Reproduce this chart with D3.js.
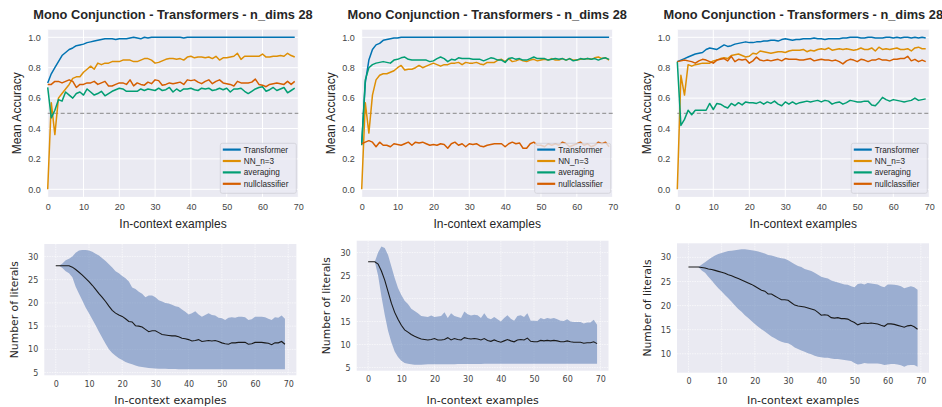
<!DOCTYPE html>
<html>
<head>
<meta charset="utf-8">
<script src="https://cdn.jsdelivr.net/npm/d3@7"></script>
<style>
  body { margin: 0; background: #fff; }
  svg { display: block; }
</style>
</head>
<body>
<svg id="chart" width="942" height="407"></svg>
<script>
// ---- data ----
const steps = d3.range(0, 70);
const seriesNames = ["Transformer", "NN_n=3", "averaging", "nullclassifier"];
const seriesColors = ["#0173B2", "#DE8F05", "#029E73", "#D55E00"];
const chartTitle = "Mono Conjunction - Transformers - n_dims 28";
const accTicks = [0, 0.2, 0.4, 0.6, 0.8, 1.0];
const stepTicks = [0, 10, 20, 30, 40, 50, 60, 70];

// top-left panel
const tlTransformer = [0.70,0.76,0.80,0.84,0.88,0.90,0.92,0.93,0.945,0.95,0.955,0.965,0.97,0.975,0.98,0.985,0.99,0.99,0.99,0.985,0.99,0.99,0.99,0.995,1.0,0.995,0.99,1.0,0.995,1.0,1.0,1.0,1.0,1.0,1.0,1.0,1.0,1.0,0.995,1.0,1.0,1.0,1.0,1.0,1.0,1.0,1.0,1.0,1.0,1.0,1.0,1.0,1.0,1.0,1.0,1.0,1.0,1.0,1.0,1.0,1.0,1.0,1.0,1.0,1.0,1.0,1.0,1.0,1.0,1.0];
const tlNN = [0.0,0.57,0.36,0.60,0.63,0.66,0.69,0.73,0.74,0.74,0.77,0.79,0.81,0.79,0.83,0.82,0.83,0.83,0.84,0.84,0.84,0.85,0.85,0.85,0.84,0.84,0.85,0.86,0.86,0.85,0.83,0.835,0.845,0.855,0.86,0.86,0.855,0.86,0.85,0.87,0.875,0.865,0.87,0.87,0.865,0.87,0.86,0.875,0.85,0.865,0.865,0.87,0.875,0.895,0.855,0.875,0.875,0.875,0.875,0.875,0.89,0.87,0.87,0.875,0.875,0.88,0.875,0.895,0.88,0.87];
const tlAvg = [0.67,0.47,0.52,0.59,0.58,0.64,0.62,0.60,0.63,0.64,0.62,0.66,0.64,0.62,0.63,0.645,0.615,0.63,0.645,0.655,0.665,0.66,0.645,0.645,0.645,0.645,0.66,0.65,0.66,0.655,0.65,0.665,0.65,0.655,0.67,0.64,0.66,0.645,0.66,0.66,0.665,0.655,0.65,0.665,0.66,0.665,0.65,0.655,0.665,0.655,0.665,0.64,0.66,0.66,0.665,0.645,0.63,0.645,0.66,0.67,0.675,0.645,0.655,0.67,0.65,0.66,0.67,0.635,0.65,0.665];
const tlNull = [0.69,0.69,0.71,0.71,0.70,0.71,0.72,0.71,0.67,0.69,0.69,0.70,0.70,0.71,0.69,0.70,0.71,0.68,0.68,0.69,0.70,0.70,0.69,0.72,0.68,0.70,0.69,0.685,0.705,0.695,0.72,0.715,0.685,0.69,0.70,0.695,0.70,0.705,0.69,0.72,0.715,0.72,0.705,0.695,0.71,0.72,0.695,0.71,0.72,0.70,0.695,0.69,0.68,0.71,0.70,0.70,0.70,0.705,0.725,0.69,0.685,0.675,0.69,0.695,0.70,0.695,0.69,0.71,0.69,0.71];

// top-middle panel
const tmTransformer = [0.30,0.70,0.85,0.92,0.95,0.96,0.98,0.985,0.99,0.995,0.995,1.0,1.0,1.0,1.0,1.0,1.0,1.0,1.0,1.0,1.0,1.0,1.0,1.0,1.0,1.0,1.0,1.0,1.0,1.0,1.0,1.0,1.0,1.0,1.0,1.0,1.0,1.0,1.0,1.0,1.0,1.0,1.0,1.0,1.0,1.0,1.0,1.0,1.0,1.0,1.0,1.0,1.0,1.0,1.0,1.0,1.0,1.0,1.0,1.0,1.0,1.0,1.0,1.0,1.0,1.0,1.0,1.0,1.0,1.0];
const tmNN = [0.0,0.57,0.37,0.62,0.72,0.75,0.76,0.76,0.77,0.78,0.80,0.815,0.785,0.79,0.79,0.80,0.815,0.80,0.81,0.82,0.83,0.82,0.81,0.82,0.82,0.83,0.83,0.835,0.82,0.835,0.83,0.83,0.835,0.825,0.82,0.835,0.835,0.835,0.85,0.855,0.84,0.86,0.84,0.845,0.855,0.845,0.84,0.85,0.855,0.845,0.85,0.855,0.85,0.86,0.85,0.85,0.86,0.85,0.86,0.85,0.85,0.855,0.855,0.86,0.855,0.865,0.87,0.86,0.865,0.85];
const tmAvg = [0.29,0.72,0.80,0.82,0.83,0.835,0.84,0.835,0.83,0.85,0.855,0.865,0.87,0.855,0.85,0.85,0.85,0.85,0.85,0.84,0.845,0.86,0.87,0.86,0.84,0.855,0.85,0.865,0.86,0.86,0.86,0.855,0.855,0.855,0.845,0.855,0.865,0.86,0.85,0.85,0.835,0.86,0.865,0.855,0.86,0.85,0.85,0.86,0.87,0.86,0.86,0.86,0.85,0.855,0.86,0.855,0.86,0.85,0.86,0.845,0.85,0.86,0.855,0.86,0.855,0.86,0.85,0.86,0.865,0.855];
const tmNull = [0.30,0.31,0.32,0.31,0.28,0.31,0.29,0.29,0.28,0.30,0.295,0.29,0.30,0.31,0.29,0.31,0.305,0.31,0.30,0.29,0.295,0.29,0.30,0.295,0.27,0.30,0.31,0.29,0.30,0.28,0.30,0.295,0.30,0.285,0.28,0.29,0.295,0.30,0.30,0.30,0.28,0.30,0.31,0.30,0.305,0.27,0.27,0.30,0.31,0.29,0.29,0.28,0.30,0.29,0.30,0.29,0.31,0.30,0.28,0.29,0.30,0.31,0.29,0.30,0.28,0.29,0.31,0.30,0.31,0.28];

// top-right panel
const trTransformer = [0.84,0.85,0.86,0.87,0.88,0.89,0.895,0.90,0.92,0.93,0.925,0.92,0.935,0.95,0.94,0.945,0.955,0.96,0.965,0.97,0.965,0.965,0.97,0.97,0.975,0.975,0.98,0.98,0.975,0.985,0.99,0.985,0.98,0.985,0.985,0.99,0.99,0.99,0.995,0.99,0.99,0.985,0.99,0.99,0.99,0.99,0.995,0.995,1.0,1.0,1.0,0.995,0.995,1.0,1.0,0.995,0.995,0.995,1.0,1.0,0.995,1.0,0.995,1.0,1.0,0.995,1.0,0.995,1.0,0.995];
const trNN = [0.0,0.75,0.62,0.82,0.81,0.82,0.825,0.83,0.83,0.83,0.845,0.85,0.86,0.865,0.86,0.88,0.885,0.89,0.88,0.87,0.875,0.895,0.89,0.91,0.905,0.90,0.895,0.90,0.905,0.905,0.90,0.91,0.915,0.915,0.915,0.92,0.905,0.915,0.91,0.92,0.925,0.92,0.93,0.915,0.92,0.925,0.92,0.925,0.92,0.915,0.92,0.93,0.92,0.92,0.93,0.91,0.935,0.92,0.925,0.92,0.925,0.93,0.92,0.92,0.925,0.91,0.93,0.935,0.925,0.925];
const trAvg = [0.84,0.42,0.46,0.52,0.49,0.52,0.52,0.52,0.52,0.565,0.525,0.565,0.56,0.545,0.535,0.565,0.55,0.57,0.555,0.575,0.57,0.57,0.565,0.575,0.56,0.575,0.565,0.58,0.56,0.55,0.575,0.56,0.575,0.56,0.57,0.575,0.58,0.575,0.58,0.585,0.575,0.585,0.58,0.56,0.57,0.575,0.56,0.57,0.585,0.58,0.575,0.575,0.58,0.58,0.555,0.55,0.575,0.605,0.59,0.58,0.59,0.585,0.58,0.575,0.58,0.585,0.60,0.585,0.59,0.595];
const trNull = [0.84,0.845,0.85,0.845,0.84,0.83,0.845,0.855,0.85,0.84,0.83,0.85,0.855,0.86,0.845,0.875,0.84,0.855,0.85,0.855,0.83,0.845,0.87,0.85,0.845,0.85,0.845,0.85,0.855,0.845,0.86,0.855,0.855,0.855,0.85,0.85,0.855,0.86,0.845,0.85,0.855,0.85,0.85,0.845,0.85,0.84,0.825,0.845,0.855,0.85,0.84,0.855,0.85,0.84,0.85,0.85,0.86,0.85,0.85,0.845,0.855,0.855,0.86,0.86,0.875,0.845,0.855,0.84,0.85,0.84];

// bottom panels: mean number of literals and band
const blMean = [28,28,28,28,28,27.7,27.2,26.6,26,25.3,24.6,23.8,22.9,22,21.2,20.3,19.3,18.4,17.8,17.4,17.1,16.6,16.0,15.9,15.1,15.0,14.8,14.3,13.8,14.0,14.0,13.6,13.2,13.1,13.0,12.9,12.9,12.7,12.4,12.3,12.1,11.8,11.9,12.1,11.7,11.8,11.9,11.8,11.9,11.7,11.4,11.2,11.1,11.4,11.4,11.5,11.5,11.5,11.1,11.2,11.5,11.5,11.5,11.4,11.3,11.0,11.4,11.4,11.7,11.1];
const blUpper = [28,28,28.5,29.2,29.5,30,30.8,31.3,31.4,31.4,31.3,31.0,30.6,30.2,29.6,29.0,28.3,27.6,26.8,26.4,25.8,25.3,24.6,23.3,23.0,22.4,22.0,21.2,21.6,21.6,21.2,20.6,20.3,20.0,19.9,19.6,19.3,19.1,18.6,18.1,17.5,17.8,18.2,17.5,17.0,17.4,17.8,17.4,17.3,16.8,16.7,16.3,16.8,16.9,16.8,17.0,17.0,16.9,16.3,16.5,17.0,17.0,17.0,16.9,16.6,16.3,16.9,16.8,17.3,16.6];
const blLower = [28,28,27.5,26.8,26.4,25.5,23.5,22.0,20.5,19.0,17.8,16.5,15.2,13.8,12.5,11.2,10.0,9.2,8.6,8.1,7.7,7.3,7.0,6.8,6.5,6.3,6.2,6.1,6.0,5.95,5.9,5.85,5.8,5.8,5.75,5.75,5.75,5.7,5.7,5.7,5.7,5.7,5.7,5.7,5.7,5.7,5.7,5.7,5.7,5.7,5.7,5.7,5.7,5.7,5.7,5.7,5.7,5.7,5.7,5.7,5.7,5.7,5.7,5.7,5.7,5.7,5.7,5.7,5.7,5.7];

const bmMean = [28,28,28,27.5,26,24,21.5,19,17,15.5,14.2,13.2,12.7,12.2,11.8,11.5,11.2,11.1,11.0,11.1,11.3,11.0,11.0,11.1,11.5,11.0,11.3,11.1,11.0,11.5,11.3,11.2,11.3,11.2,11.0,11.3,10.9,10.7,11.0,10.7,10.5,10.8,11.1,10.8,10.6,11.0,11.1,11.0,11.4,10.7,10.6,10.6,10.9,10.8,10.9,10.8,10.9,10.8,10.6,10.6,10.8,10.6,10.5,10.5,10.5,10.3,10.4,10.4,10.6,10.2];
const bmUpper = [28,28,28,30,31.3,31.0,29.5,27,24.5,22.3,20.8,19.5,18.8,17.8,17.3,16.8,16.2,16.1,16.0,16.3,16.0,16.1,16.2,17.0,15.8,16.8,16.2,16.0,15.8,17.2,16.6,16.3,16.5,16.4,15.8,16.8,15.8,15.5,16.0,15.5,15.0,15.8,16.4,15.6,15.2,16.2,16.4,16.0,16.8,15.2,15.2,15.1,15.8,15.5,15.8,15.6,15.8,15.5,15.2,15.1,15.5,15.0,14.9,14.9,14.9,14.6,14.8,14.8,15.4,14.3];
const bmLower = [28,28,28,25,20.5,16.5,13,10.5,8.5,7.3,6.5,6.0,5.8,5.7,5.6,5.6,5.6,5.65,5.7,5.7,5.7,5.7,5.7,5.7,5.7,5.7,5.7,5.75,5.75,5.75,5.75,5.75,5.75,5.75,5.75,5.8,5.8,5.8,5.8,5.8,5.8,5.8,5.8,5.8,5.8,5.8,5.8,5.8,5.8,5.8,5.85,5.85,5.85,5.85,5.85,5.85,5.85,5.85,5.85,5.85,5.85,5.85,5.85,5.85,5.85,5.85,5.85,5.85,5.85,5.85];

const brMean = [28,28,28,28,27.9,27.8,27.6,27.5,27.3,27.1,26.9,26.7,26.4,26.2,25.9,25.6,25.3,25.0,24.7,24.4,24.0,23.6,23.2,23.0,22.4,22.4,22.0,21.6,21.2,21.2,21.1,20.6,20.1,19.9,19.8,19.7,19.5,19.3,19.1,18.6,18.0,18.1,18.0,17.5,17.4,17.5,17.3,17.3,17.2,16.8,16.5,16.0,16.3,16.4,16.3,16.4,16.3,16.2,15.9,15.7,16.2,16.2,16.1,15.9,15.7,15.5,15.8,15.9,15.6,15.1];
const brUpper = [28,28,28,28,28.5,29.0,29.5,30.0,30.4,30.7,30.9,31.1,31.3,31.4,31.5,31.6,31.7,31.7,31.6,31.5,31.4,31.2,31.0,30.8,30.5,30.4,30.2,30.0,29.8,29.7,29.4,29.0,28.6,28.2,28.0,27.6,27.4,27.2,26.8,26.4,26.0,25.8,25.6,25.2,25.0,24.8,24.6,24.4,24.3,24.0,23.8,24.5,24.6,24.4,24.7,24.6,24.5,24.4,24.0,23.8,24.4,24.4,24.3,24.2,24.0,23.6,23.8,24.0,23.8,23.3];
const brLower = [28,28,28,28,27.3,26.8,26.0,25.2,24.4,23.6,22.9,22.2,21.5,20.8,20.0,19.3,18.7,18.0,17.4,16.8,16.2,15.6,15.1,14.6,14.1,13.6,13.2,12.8,12.5,12.3,12.2,11.8,11.3,11.0,10.7,10.4,10.1,9.9,9.6,9.4,9.3,9.2,9.2,9.0,8.9,8.9,8.8,8.7,8.6,8.5,8.1,7.8,7.9,8.1,8.0,8.0,8.0,8.0,7.9,7.7,7.8,7.9,7.9,7.8,7.6,7.3,7.6,7.7,7.7,7.3];

const blTicks = [5, 10, 15, 20, 25, 30];
const brTicks = [10, 15, 20, 25, 30];

// ---- layout ----
const svg = d3.select("#chart");
const BG = "#EAEAF2";
const topY = [29.7, 196.9];
const topPanels = [
  { x: [47.7, 298.3], series: [tlTransformer, tlNN, tlAvg, tlNull] },
  { x: [361.7, 612.7], series: [tmTransformer, tmNN, tmAvg, tmNull] },
  { x: [677.3, 929.3], series: [trTransformer, trNN, trAvg, trNull] }
];
const bottomPanels = [
  { x: [44.3, 296.4], y: [244, 375.3], mean: blMean, upper: blUpper, lower: blLower, ticks: blTicks },
  { x: [356.7, 608.5], y: [240.7, 370.7], mean: bmMean, upper: bmUpper, lower: bmLower, ticks: blTicks },
  { x: [677, 929], y: [243.3, 372.7], mean: brMean, upper: brUpper, lower: brLower, ticks: brTicks }
];

// top accuracy charts
topPanels.forEach(p => {
  const x = d3.scaleLinear().domain([0, 70]).range(p.x);
  const y = d3.scaleLinear().domain([-0.05, 1.05]).range([topY[1], topY[0]]);
  const g = svg.append("g");

  g.append("rect").attr("x", p.x[0]).attr("y", topY[0])
    .attr("width", p.x[1] - p.x[0]).attr("height", topY[1] - topY[0]).attr("fill", BG);

  // grid
  g.selectAll(".gx").data(stepTicks).enter().append("line")
    .attr("x1", d => x(d)).attr("x2", d => x(d)).attr("y1", topY[0]).attr("y2", topY[1])
    .attr("stroke", "#fff").attr("stroke-width", 1);
  g.selectAll(".gy").data(accTicks).enter().append("line")
    .attr("x1", p.x[0]).attr("x2", p.x[1]).attr("y1", d => y(d)).attr("y2", d => y(d))
    .attr("stroke", "#fff").attr("stroke-width", 1);

  // axes (labels only, seaborn style)
  const ax = g.append("g").attr("transform", `translate(0,${topY[1]})`)
    .call(d3.axisBottom(x).tickValues(stepTicks).tickSize(0).tickPadding(7).tickFormat(d3.format("d")));
  const ay = g.append("g").attr("transform", `translate(${p.x[0]},0)`)
    .call(d3.axisLeft(y).tickValues(accTicks).tickSize(0).tickPadding(7).tickFormat(d3.format(".1f")));
  [ax, ay].forEach(a => {
    a.select(".domain").remove();
    a.selectAll("text").attr("font-family", "Liberation Sans, Arial, sans-serif")
      .attr("font-size", 9).attr("fill", "#444");
  });

  // chance line
  g.append("line").attr("x1", p.x[0]).attr("x2", p.x[1]).attr("y1", y(0.5)).attr("y2", y(0.5))
    .attr("stroke", "#888").attr("stroke-width", 1).attr("stroke-dasharray", "4,2.5");

  const line = d3.line().x((d, i) => x(steps[i])).y(d => y(d));
  p.series.forEach((s, k) => {
    g.append("path").datum(s).attr("d", line).attr("fill", "none")
      .attr("stroke", seriesColors[k]).attr("stroke-width", 1.5).attr("stroke-linejoin", "round");
  });

  // legend
  const lx = p.x[1] - 78, ly = topY[1] - 53.6;
  const lg = g.append("g").attr("transform", `translate(${lx},${ly})`);
  lg.append("rect").attr("width", 76).attr("height", 50).attr("rx", 2)
    .attr("fill", "#EAEAF2").attr("fill-opacity", 0.8).attr("stroke", "#d0d0d8").attr("stroke-width", 0.8);
  seriesNames.forEach((n, k) => {
    const yy = 6.3 + k * 11.4;
    lg.append("line").attr("x1", 2.5).attr("x2", 20.5).attr("y1", yy).attr("y2", yy)
      .attr("stroke", seriesColors[k]).attr("stroke-width", 2.2);
    lg.append("text").attr("x", 23.5).attr("y", yy + 3).text(n)
      .attr("font-family", "Liberation Sans, Arial, sans-serif").attr("font-size", 8.2).attr("fill", "#262626");
  });

  // labels
  g.append("text").attr("x", (p.x[0] + p.x[1]) / 2).attr("y", 19).attr("text-anchor", "middle")
    .attr("font-family", "Liberation Sans, Arial, sans-serif").attr("font-weight", "bold")
    .attr("font-size", 12.8).attr("fill", "#262626").text(chartTitle);
  g.append("text").attr("x", (p.x[0] + p.x[1]) / 2).attr("y", 228).attr("text-anchor", "middle")
    .attr("font-family", "Liberation Sans, Arial, sans-serif").attr("font-size", 12)
    .attr("fill", "#262626").text("In-context examples");
  g.append("text").attr("transform", `translate(${p.x[0] - 31},${(topY[0] + topY[1]) / 2}) rotate(-90)`)
    .attr("text-anchor", "middle").attr("dy", "0.35em")
    .attr("font-family", "Liberation Sans, Arial, sans-serif").attr("font-size", 12)
    .attr("fill", "#262626").text("Mean Accuracy");
});

// bottom literal-count charts
bottomPanels.forEach(p => {
  const lo = d3.min(p.lower), hi = d3.max(p.upper), pad = (hi - lo) * 0.05;
  const x = d3.scaleLinear().domain([-3.45, 72.45]).range(p.x);
  const y = d3.scaleLinear().domain([lo - pad, hi + pad]).range([p.y[1], p.y[0]]);
  const g = svg.append("g");

  g.append("rect").attr("x", p.x[0]).attr("y", p.y[0])
    .attr("width", p.x[1] - p.x[0]).attr("height", p.y[1] - p.y[0]).attr("fill", BG);

  g.selectAll(".gx").data(stepTicks).enter().append("line")
    .attr("x1", d => x(d)).attr("x2", d => x(d)).attr("y1", p.y[0]).attr("y2", p.y[1])
    .attr("stroke", "#fff").attr("stroke-width", 0.6).attr("stroke-dasharray", "1.5,1");
  g.selectAll(".gy").data(p.ticks).enter().append("line")
    .attr("x1", p.x[0]).attr("x2", p.x[1]).attr("y1", d => y(d)).attr("y2", d => y(d))
    .attr("stroke", "#fff").attr("stroke-width", 0.6).attr("stroke-dasharray", "1.5,1");

  const ax = g.append("g").attr("transform", `translate(0,${p.y[1]})`)
    .call(d3.axisBottom(x).tickValues(stepTicks).tickSize(0).tickPadding(6).tickFormat(d3.format("d")));
  const ay = g.append("g").attr("transform", `translate(${p.x[0]},0)`)
    .call(d3.axisLeft(y).tickValues(p.ticks).tickSize(0).tickPadding(6).tickFormat(d3.format("d")));
  [ax, ay].forEach(a => {
    a.select(".domain").remove();
    a.selectAll("text").attr("font-family", "DejaVu Sans, sans-serif")
      .attr("font-size", 8).attr("fill", "#444");
  });

  const area = d3.area().x((d, i) => x(steps[i])).y0((d, i) => y(p.lower[i])).y1(d => y(d));
  g.append("path").datum(p.upper).attr("d", area).attr("fill", "#4C72B0").attr("fill-opacity", 0.5);
  const line = d3.line().x((d, i) => x(steps[i])).y(d => y(d));
  g.append("path").datum(p.mean).attr("d", line).attr("fill", "none")
    .attr("stroke", "#1a1a1a").attr("stroke-width", 1.1);

  g.append("text").attr("x", (p.x[0] + p.x[1]) / 2).attr("y", 404).attr("text-anchor", "middle")
    .attr("font-family", "DejaVu Sans, sans-serif").attr("font-size", 11)
    .attr("fill", "#262626").text("In-context examples");
  g.append("text").attr("transform", `translate(${p.x[0] - 30},${(p.y[0] + p.y[1]) / 2}) rotate(-90)`)
    .attr("text-anchor", "middle").attr("dy", "0.35em")
    .attr("font-family", "DejaVu Sans, sans-serif").attr("font-size", 10.8)
    .attr("fill", "#262626").text("Number of literals");
});
</script>
</body>
</html>
